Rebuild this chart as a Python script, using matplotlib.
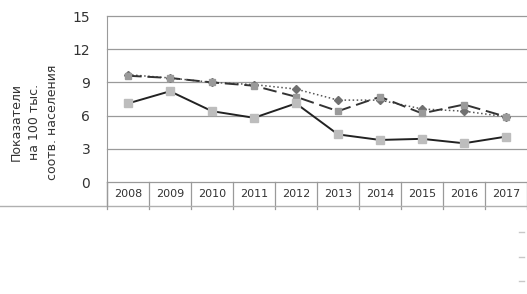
import matplotlib.pyplot as plt
from matplotlib.lines import Line2D

years = ["2008", "2009", "2010", "2011", "2012", "2013", "2014", "2015", "2016", "2017"]
solid_vals = [7.1, 8.2, 6.4, 5.8, 7.1, 4.3, 3.8, 3.9, 3.5, 4.1]
dashed_vals = [9.6, 9.4, 9.0, 8.7, 7.7, 6.4, 7.7, 6.2, 7.0, 5.9]
dotted_vals = [9.7, 9.4, 9.0, 8.8, 8.4, 7.4, 7.4, 6.6, 6.4, 5.9]
y_ticks = [0, 3, 6, 9, 12, 15]

fig = plt.figure(figsize=(5.27, 2.94), dpi=100)
ax = fig.add_axes([107 / 527, 1 - 182 / 294, 420 / 527, 166 / 294])

x = list(range(len(years)))
ax.plot(x, dotted_vals, color="#555555", linestyle=":", linewidth=1.1,
        marker="D", markersize=4, markerfacecolor="#707070", markeredgecolor="#707070", zorder=3)
ax.plot(x, dashed_vals, color="#333333", linestyle=(0, (7, 3)), linewidth=1.4,
        marker="s", markersize=5, markerfacecolor="#9a9a9a", markeredgecolor="#9a9a9a", zorder=4)
ax.plot(x, solid_vals, color="#222222", linestyle="-", linewidth=1.4,
        marker="s", markersize=5.5, markerfacecolor="#bdbdbd", markeredgecolor="#bdbdbd", zorder=5)

ax.set_xlim(-0.5, len(years) - 0.5)
ax.set_ylim(0, 15)
ax.set_yticks(y_ticks)
ax.set_yticklabels([str(t) for t in y_ticks], fontsize=10, color="#333333")
ax.set_xticks([])
ax.tick_params(axis="y", length=0, pad=12)
for t in y_ticks:
    ax.axhline(t, color="#9a9a9a", linewidth=0.9, zorder=1, clip_on=False)
for side in ["top", "right", "bottom"]:
    ax.spines[side].set_visible(False)
ax.spines["left"].set_color("#9a9a9a")

# table row with years under the plot
row_h = 24 / 166
trans = ax.transAxes
for i in range(len(years) + 1):
    ax.add_line(Line2D([i / len(years)] * 2, [0, -row_h - 0.02], transform=trans,
                       color="#9a9a9a", linewidth=0.9, clip_on=False))
for i, yr in enumerate(years):
    ax.text(i, -row_h / 2 * 15, yr, ha="center", va="center", fontsize=8, color="#333333",
            clip_on=False)
ax.add_line(Line2D([-107 / 420, 1], [-row_h, -row_h], transform=trans,
                   color="#b0b0b0", linewidth=1.0, clip_on=False))
ax.add_line(Line2D([0, 0], [0, -row_h], transform=trans, color="#9a9a9a",
                   linewidth=0.9, clip_on=False))

fig.text(34 / 527, 1 - 122 / 294, "Показатели\nна 100 тыс.\nсоотв. населения",
         rotation=90, ha="center", va="center", fontsize=9, color="#333333",
         linespacing=1.5)

# faint legend remnants at the right edge
for yy in [232, 257, 281]:
    fig.add_artist(Line2D([519 / 527, 524 / 527], [1 - yy / 294] * 2, color="#c8c8c8",
                          linewidth=1.0))

fig.savefig("out.png", dpi=100)
plt.close(fig)
